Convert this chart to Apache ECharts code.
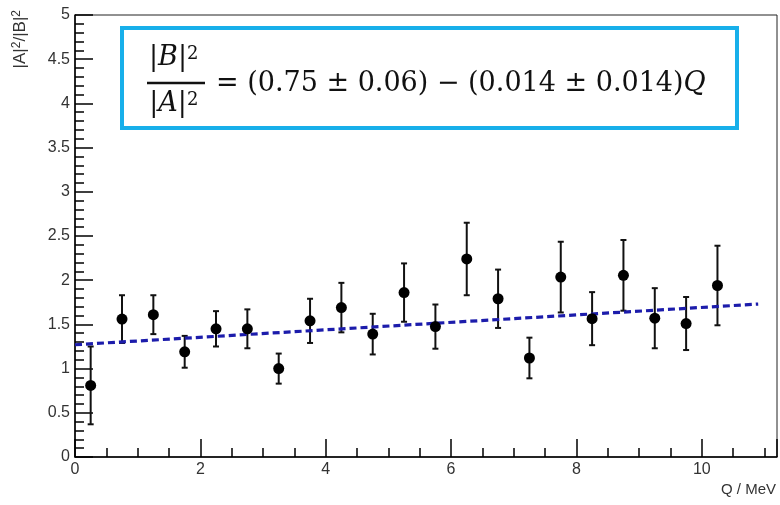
<!DOCTYPE html>
<html>
<head>
<meta charset="utf-8">
<script src="https://cdn.jsdelivr.net/npm/echarts@6/dist/echarts.min.js"></script>
<style>
  html, body { margin: 0; padding: 0; background: #fff; }
  #chart { width: 780px; height: 505px; }
</style>
</head>
<body>
<div id="chart"></div>
<script>
// Bin centres in Q (MeV)
const qValues = [0.25, 0.75, 1.25, 1.75, 2.25, 2.75, 3.25, 3.75, 4.25, 4.75,
                 5.25, 5.75, 6.25, 6.75, 7.25, 7.75, 8.25, 8.75, 9.25, 9.75, 10.25];
// Measured |A|^2/|B|^2 per bin and its uncertainty
const ratioValues = [0.81, 1.56, 1.61, 1.19, 1.45, 1.45, 1.00, 1.54, 1.69, 1.39,
                     1.86, 1.475, 2.24, 1.79, 1.12, 2.035, 1.565, 2.055, 1.57, 1.51, 1.94];
const ratioErrors = [0.44, 0.27, 0.22, 0.18, 0.20, 0.22, 0.17, 0.25, 0.28, 0.23,
                     0.33, 0.25, 0.41, 0.33, 0.23, 0.40, 0.30, 0.40, 0.34, 0.30, 0.45];
// Straight-line fit, evaluated at its two ends
const fitQ = [0, 10.9];
const fitRatio = [1.27, 1.73];
// Axis ranges and tick steps
const xRange = [0, 11.2];
const yRange = [0, 5];
const xStep = 2;
const yStep = 0.5;

const points = qValues.map((q, i) => [q, ratioValues[i], ratioErrors[i]]);
const fitLine = fitQ.map((q, i) => [q, fitRatio[i]]);

const labelFont = { fontFamily: 'Liberation Sans', fontSize: 16, color: '#333' };
const tickStyle = { color: '#000', width: 1.5 };

const chart = echarts.init(document.getElementById('chart'), null, { renderer: 'canvas' });

chart.setOption({
  backgroundColor: '#fff',
  animation: false,
  grid: {
    left: 75, right: 3, top: 15, bottom: 48,
    show: true, borderColor: '#222', borderWidth: 1, backgroundColor: 'transparent'
  },
  xAxis: {
    type: 'value', min: xRange[0], max: xRange[1], interval: xStep,
    axisLine: { show: true, lineStyle: tickStyle },
    axisTick: { show: true, inside: true, length: 18, lineStyle: tickStyle },
    minorTick: { show: true, splitNumber: 4, length: 9, lineStyle: tickStyle },
    splitLine: { show: false },
    axisLabel: Object.assign({ margin: 5, showMaxLabel: false }, labelFont)
  },
  yAxis: {
    type: 'value', min: yRange[0], max: yRange[1], interval: yStep,
    axisLine: { show: true, lineStyle: tickStyle },
    axisTick: { show: true, inside: true, length: 18, lineStyle: tickStyle },
    minorTick: { show: true, splitNumber: 5, length: 9, lineStyle: tickStyle },
    splitLine: { show: false },
    axisLabel: Object.assign({ margin: 5 }, labelFont)
  },
  series: [
    {
      type: 'custom',
      name: 'errors',
      data: points,
      z: 3,
      renderItem: function (params, api) {
        const x = api.value(0), y = api.value(1), e = api.value(2);
        const top = api.coord([x, y + e]);
        const bot = api.coord([x, y - e]);
        const cap = 3;
        const style = { stroke: '#111', lineWidth: 2 };
        return {
          type: 'group',
          children: [
            { type: 'line', shape: { x1: top[0], y1: top[1], x2: bot[0], y2: bot[1] }, style: style },
            { type: 'line', shape: { x1: top[0] - cap, y1: top[1], x2: top[0] + cap, y2: top[1] }, style: style },
            { type: 'line', shape: { x1: bot[0] - cap, y1: bot[1], x2: bot[0] + cap, y2: bot[1] }, style: style }
          ]
        };
      }
    },
    {
      type: 'line',
      name: 'fit',
      data: fitLine,
      showSymbol: false,
      z: 4,
      lineStyle: { color: '#1c1cab', width: 3.2, type: [7, 4] }
    },
    {
      type: 'scatter',
      name: 'data',
      data: points.map(p => [p[0], p[1]]),
      symbol: 'circle',
      symbolSize: 11,
      z: 5,
      itemStyle: { color: '#000', opacity: 1 }
    }
  ],
  graphic: [
    // axis titles
    {
      type: 'text', z: 10, x: 11, y: 10, rotation: Math.PI / 2,
      style: {
        text: '|A|{sup|2}/|B|{sup|2}', align: 'right', verticalAlign: 'top',
        fontFamily: 'Liberation Sans', fontSize: 17, fill: '#333', lineHeight: 18,
        rich: { sup: { fontFamily: 'Liberation Sans', fontSize: 12, fill: '#333',
                       verticalAlign: 'top', lineHeight: 18 } }
      }
    },
    {
      type: 'text', z: 10,
      x: 776, y: 490,
      style: { text: 'Q / MeV', fontFamily: 'Liberation Sans', fontSize: 15, fill: '#333',
               align: 'right', verticalAlign: 'middle' }
    },
    // fit result box
    {
      type: 'rect', z: 20,
      shape: { x: 122, y: 28, width: 615, height: 100 },
      style: { fill: '#fff', stroke: '#17afea', lineWidth: 4 }
    },
    {
      type: 'text', z: 21, x: 168, y: 71,
      style: {
        text: '|{i|B}|', align: 'center', verticalAlign: 'bottom',
        fontFamily: 'DejaVu Serif', fontSize: 27, fill: '#111',
        rich: { i: { fontStyle: 'italic', fontFamily: 'DejaVu Serif', fontSize: 27 } }
      }
    },
    {
      type: 'text', z: 21, x: 187, y: 45,
      style: { text: '2', fontFamily: 'DejaVu Serif', fontSize: 18, fill: '#111' }
    },
    {
      type: 'line', z: 21,
      shape: { x1: 147, y1: 83, x2: 205, y2: 83 },
      style: { stroke: '#111', lineWidth: 2.5 }
    },
    {
      type: 'text', z: 21, x: 168, y: 117,
      style: {
        text: '|{i|A}|', align: 'center', verticalAlign: 'bottom',
        fontFamily: 'DejaVu Serif', fontSize: 27, fill: '#111',
        rich: { i: { fontStyle: 'italic', fontFamily: 'DejaVu Serif', fontSize: 27 } }
      }
    },
    {
      type: 'text', z: 21, x: 187, y: 91,
      style: { text: '2', fontFamily: 'DejaVu Serif', fontSize: 18, fill: '#111' }
    },
    {
      type: 'text', z: 21, x: 216, y: 84,
      style: {
        text: '= (0.75 ± 0.06) − (0.014 ± 0.014){i|Q}', verticalAlign: 'middle',
        fontFamily: 'DejaVu Serif', fontSize: 27, fill: '#111',
        rich: { i: { fontStyle: 'italic', fontFamily: 'DejaVu Serif', fontSize: 27 } }
      }
    }
  ]
});
</script>
</body>
</html>
